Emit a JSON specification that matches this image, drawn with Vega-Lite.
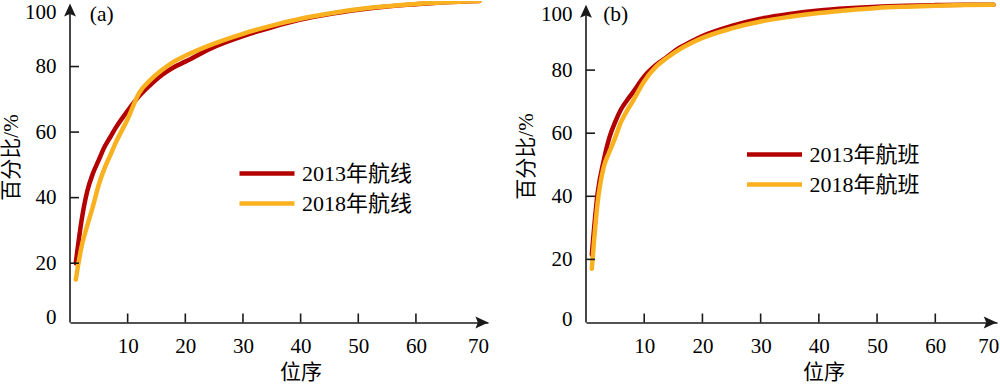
{
  "$schema": "https://vega.github.io/schema/vega-lite/v6.json",
  "padding": {"left": 0, "top": 1, "right": 0, "bottom": 0},
  "bounds": "flush",
  "spacing": 98,
  "config": {
    "font": "Liberation Serif, Noto Sans CJK SC",
    "view": {"stroke": null},
    "axis": {
      "grid": false,
      "ticks": false,
      "domainColor": "#1a1a1a",
      "domainWidth": 1.6,
      "labelFont": "Liberation Serif",
      "labelFontSize": 21,
      "labelColor": "black",
      "titleFont": "Liberation Serif, Noto Sans CJK SC",
      "titleFontSize": 21,
      "titleFontWeight": "normal",
      "titleColor": "black",
      "labelFlush": false,
      "labelOverlap": false
    },
    "legend": {
      "orient": "none",
      "title": null,
      "symbolType": "M-2.5,0L2.5,0",
      "symbolSize": 484,
      "symbolStrokeWidth": 4.5,
      "labelFont": "Liberation Serif, Noto Sans CJK SC",
      "labelFontSize": 22,
      "labelColor": "black",
      "labelOffset": 21.5,
      "rowPadding": 5,
      "padding": 0,
      "labelLimit": 300
    }
  },
  "resolve": {"scale": {"color": "independent"}, "legend": {"color": "independent"}},
  "hconcat": [
    {
      "width": 418,
      "height": 321.5,
      "layer": [
        {
          "data": {"values": [
            {"series": "2013年航线", "rank": 1, "pct": 20},
            {"series": "2013年航线", "rank": 2, "pct": 33},
            {"series": "2013年航线", "rank": 3, "pct": 42},
            {"series": "2013年航线", "rank": 4, "pct": 47.5},
            {"series": "2013年航线", "rank": 5, "pct": 51.5},
            {"series": "2013年航线", "rank": 6, "pct": 55.5},
            {"series": "2013年航线", "rank": 7, "pct": 58.5},
            {"series": "2013年航线", "rank": 8, "pct": 61.5},
            {"series": "2013年航线", "rank": 10, "pct": 66.5},
            {"series": "2013年航线", "rank": 12, "pct": 71},
            {"series": "2013年航线", "rank": 14, "pct": 74.5},
            {"series": "2013年航线", "rank": 16, "pct": 77.5},
            {"series": "2013年航线", "rank": 18, "pct": 79.8},
            {"series": "2013年航线", "rank": 20, "pct": 81.5},
            {"series": "2013年航线", "rank": 25, "pct": 86},
            {"series": "2013年航线", "rank": 30, "pct": 89.3},
            {"series": "2013年航线", "rank": 35, "pct": 92},
            {"series": "2013年航线", "rank": 40, "pct": 94.3},
            {"series": "2013年航线", "rank": 45, "pct": 96},
            {"series": "2013年航线", "rank": 50, "pct": 97.3},
            {"series": "2013年航线", "rank": 55, "pct": 98.3},
            {"series": "2013年航线", "rank": 60, "pct": 99},
            {"series": "2013年航线", "rank": 65, "pct": 99.6},
            {"series": "2013年航线", "rank": 71, "pct": 100},
            {"series": "2018年航线", "rank": 1, "pct": 15},
            {"series": "2018年航线", "rank": 2, "pct": 25},
            {"series": "2018年航线", "rank": 3, "pct": 31.5},
            {"series": "2018年航线", "rank": 4, "pct": 37.5},
            {"series": "2018年航线", "rank": 5, "pct": 44},
            {"series": "2018年航线", "rank": 6, "pct": 49},
            {"series": "2018年航线", "rank": 7, "pct": 53},
            {"series": "2018年航线", "rank": 8, "pct": 57},
            {"series": "2018年航线", "rank": 10, "pct": 64},
            {"series": "2018年航线", "rank": 12, "pct": 72},
            {"series": "2018年航线", "rank": 14, "pct": 76},
            {"series": "2018年航线", "rank": 16, "pct": 79},
            {"series": "2018年航线", "rank": 18, "pct": 81.5},
            {"series": "2018年航线", "rank": 20, "pct": 83.3},
            {"series": "2018年航线", "rank": 25, "pct": 87},
            {"series": "2018年航线", "rank": 30, "pct": 90},
            {"series": "2018年航线", "rank": 35, "pct": 92.5},
            {"series": "2018年航线", "rank": 40, "pct": 94.6},
            {"series": "2018年航线", "rank": 45, "pct": 96.2},
            {"series": "2018年航线", "rank": 50, "pct": 97.5},
            {"series": "2018年航线", "rank": 55, "pct": 98.4},
            {"series": "2018年航线", "rank": 60, "pct": 99.1},
            {"series": "2018年航线", "rank": 65, "pct": 99.6},
            {"series": "2018年航线", "rank": 71, "pct": 100}
          ]},
          "mark": {"type": "line", "interpolate": "monotone", "strokeWidth": 4.5, "strokeCap": "round", "clip": true},
          "encoding": {
            "x": {
              "field": "rank", "type": "quantitative",
              "scale": {"domain": [0, 72.5], "nice": false, "zero": false},
              "axis": {
                "title": "位序",
                "values": [10, 20, 30, 40, 50, 60, 70.76],
                "labelExpr": "datum.value > 65 ? '70' : datum.label",
                "labelPadding": 12.5,
                "titleX": 230.5, "titleY": 50, "titleBaseline": "middle"
              }
            },
            "y": {
              "field": "pct", "type": "quantitative",
              "scale": {"domain": [1.9, 100], "nice": false, "zero": false},
              "axis": {
                "title": "百分比/%",
                "values": [3.4, 20, 40, 60, 80, 96.6],
                "labelExpr": "datum.value < 10 ? '0' : datum.value > 90 ? '100' : datum.label",
                "domain": false,
                "labelPadding": 14,
                "titleX": -59, "titleY": 156, "titleBaseline": "middle"
              }
            },
            "color": {
              "field": "series", "type": "nominal",
              "scale": {"domain": ["2013年航线", "2018年航线"], "range": ["#B30000", "#F9B11F"]},
              "legend": {"legendX": 183.5, "legendY": 159}
            }
          }
        },
        {
          "data": {"values": [{"tick": 20}, {"tick": 40}, {"tick": 60}, {"tick": 80}]},
          "mark": {"type": "rule", "strokeWidth": 1.6, "color": "#1a1a1a"},
          "encoding": {"y": {"field": "tick", "type": "quantitative"}, "x": {"datum": 0}, "x2": {"datum": 1.56}}
        },
        {
          "data": {"values": [{"tick": 10}, {"tick": 20}, {"tick": 30}, {"tick": 40}, {"tick": 50}, {"tick": 60}]},
          "mark": {"type": "rule", "strokeWidth": 1.6, "color": "#1a1a1a"},
          "encoding": {"x": {"field": "tick", "type": "quantitative"}, "y": {"datum": 1.9}, "y2": {"datum": 4.65}}
        },
        {
          "data": {"values": [{}]},
          "mark": {"type": "rule", "strokeWidth": 1.6, "color": "#1a1a1a"},
          "encoding": {"x": {"datum": 0}, "y": {"datum": 1.9}, "y2": {"datum": 97.1}}
        },
        {
          "data": {"values": [{}]},
          "mark": {"type": "point", "shape": "M0,-1L0.85,0.85L0,0.5L-0.85,0.85Z", "size": 196, "filled": true, "color": "#1a1a1a", "opacity": 1},
          "encoding": {"x": {"datum": 0}, "y": {"datum": 97.1}}
        },
        {
          "data": {"values": [{}]},
          "mark": {"type": "point", "shape": "M1,0L-0.85,0.85L-0.5,0L-0.85,-0.85Z", "size": 196, "filled": true, "color": "#1a1a1a", "opacity": 1},
          "encoding": {"x": {"datum": 71.35}, "y": {"datum": 1.9}}
        },
        {
          "data": {"values": [{}]},
          "mark": {"type": "text", "text": "(a)", "fontSize": 21.5, "font": "Liberation Serif", "align": "center", "baseline": "middle", "color": "black"},
          "encoding": {"x": {"datum": 5.5}, "y": {"datum": 95.8}}
        }
      ]
    },
    {
      "width": 411,
      "height": 321.5,
      "layer": [
        {
          "data": {"values": [
            {"series": "2013年航班", "rank": 1, "pct": 21.5},
            {"series": "2013年航班", "rank": 2, "pct": 41},
            {"series": "2013年航班", "rank": 3, "pct": 51},
            {"series": "2013年航班", "rank": 4, "pct": 58.5},
            {"series": "2013年航班", "rank": 5, "pct": 63.5},
            {"series": "2013年航班", "rank": 6, "pct": 67.5},
            {"series": "2013年航班", "rank": 7, "pct": 70.3},
            {"series": "2013年航班", "rank": 8, "pct": 72.8},
            {"series": "2013年航班", "rank": 10, "pct": 78},
            {"series": "2013年航班", "rank": 12, "pct": 81.6},
            {"series": "2013年航班", "rank": 14, "pct": 84.3},
            {"series": "2013年航班", "rank": 16, "pct": 87},
            {"series": "2013年航班", "rank": 18, "pct": 89},
            {"series": "2013年航班", "rank": 20, "pct": 90.8},
            {"series": "2013年航班", "rank": 25, "pct": 94},
            {"series": "2013年航班", "rank": 30, "pct": 96.3},
            {"series": "2013年航班", "rank": 35, "pct": 97.8},
            {"series": "2013年航班", "rank": 40, "pct": 98.9},
            {"series": "2013年航班", "rank": 45, "pct": 99.6},
            {"series": "2013年航班", "rank": 50, "pct": 100.1},
            {"series": "2013年航班", "rank": 55, "pct": 100.4},
            {"series": "2013年航班", "rank": 60, "pct": 100.6},
            {"series": "2013年航班", "rank": 65, "pct": 100.7},
            {"series": "2013年航班", "rank": 70, "pct": 100.7},
            {"series": "2018年航班", "rank": 1, "pct": 17},
            {"series": "2018年航班", "rank": 2, "pct": 38},
            {"series": "2018年航班", "rank": 3, "pct": 49},
            {"series": "2018年航班", "rank": 4, "pct": 54},
            {"series": "2018年航班", "rank": 5, "pct": 58.5},
            {"series": "2018年航班", "rank": 6, "pct": 63.5},
            {"series": "2018年航班", "rank": 7, "pct": 67},
            {"series": "2018年航班", "rank": 8, "pct": 70},
            {"series": "2018年航班", "rank": 10, "pct": 76.5},
            {"series": "2018年航班", "rank": 12, "pct": 81},
            {"series": "2018年航班", "rank": 14, "pct": 84},
            {"series": "2018年航班", "rank": 16, "pct": 86.5},
            {"series": "2018年航班", "rank": 18, "pct": 88.5},
            {"series": "2018年航班", "rank": 20, "pct": 90.2},
            {"series": "2018年航班", "rank": 25, "pct": 93.2},
            {"series": "2018年航班", "rank": 30, "pct": 95.4},
            {"series": "2018年航班", "rank": 35, "pct": 96.9},
            {"series": "2018年航班", "rank": 40, "pct": 98.1},
            {"series": "2018年航班", "rank": 45, "pct": 99},
            {"series": "2018年航班", "rank": 50, "pct": 99.7},
            {"series": "2018年航班", "rank": 55, "pct": 100.1},
            {"series": "2018年航班", "rank": 60, "pct": 100.4},
            {"series": "2018年航班", "rank": 65, "pct": 100.6},
            {"series": "2018年航班", "rank": 70, "pct": 100.7}
          ]},
          "mark": {"type": "line", "interpolate": "monotone", "strokeWidth": 4.5, "strokeCap": "round", "clip": true},
          "encoding": {
            "x": {
              "field": "rank", "type": "quantitative",
              "scale": {"domain": [0, 70.6], "nice": false, "zero": false},
              "axis": {
                "title": "位序",
                "values": [10, 20, 30, 40, 50, 60, 69.1],
                "labelExpr": "datum.value > 65 ? '70' : datum.label",
                "labelPadding": 12.5,
                "titleX": 237.5, "titleY": 50, "titleBaseline": "middle"
              }
            },
            "y": {
              "field": "pct", "type": "quantitative",
              "scale": {"domain": [0, 101.9], "nice": false, "zero": false},
              "axis": {
                "title": "百分比/%",
                "values": [0.86, 20, 40, 60, 80, 97.5],
                "labelExpr": "datum.value < 10 ? '0' : datum.value > 90 ? '100' : datum.label",
                "domain": false,
                "labelPadding": 14,
                "titleX": -60, "titleY": 155, "titleBaseline": "middle"
              }
            },
            "color": {
              "field": "series", "type": "nominal",
              "scale": {"domain": ["2013年航班", "2018年航班"], "range": ["#B30000", "#F9B11F"]},
              "legend": {"legendX": 175, "legendY": 140}
            }
          }
        },
        {
          "data": {"values": [{"tick": 20}, {"tick": 40}, {"tick": 60}, {"tick": 80}]},
          "mark": {"type": "rule", "strokeWidth": 1.6, "color": "#1a1a1a"},
          "encoding": {"y": {"field": "tick", "type": "quantitative"}, "x": {"datum": 0}, "x2": {"datum": 1.55}}
        },
        {
          "data": {"values": [{"tick": 10}, {"tick": 20}, {"tick": 30}, {"tick": 40}, {"tick": 50}, {"tick": 60}]},
          "mark": {"type": "rule", "strokeWidth": 1.6, "color": "#1a1a1a"},
          "encoding": {"x": {"field": "tick", "type": "quantitative"}, "y": {"datum": 0}, "y2": {"datum": 2.85}}
        },
        {
          "data": {"values": [{}]},
          "mark": {"type": "rule", "strokeWidth": 1.6, "color": "#1a1a1a"},
          "encoding": {"x": {"datum": 0}, "y": {"datum": 0}, "y2": {"datum": 98.5}}
        },
        {
          "data": {"values": [{}]},
          "mark": {"type": "point", "shape": "M0,-1L0.85,0.85L0,0.5L-0.85,0.85Z", "size": 196, "filled": true, "color": "#1a1a1a", "opacity": 1},
          "encoding": {"x": {"datum": 0}, "y": {"datum": 98.5}}
        },
        {
          "data": {"values": [{}]},
          "mark": {"type": "point", "shape": "M1,0L-0.85,0.85L-0.5,0L-0.85,-0.85Z", "size": 196, "filled": true, "color": "#1a1a1a", "opacity": 1},
          "encoding": {"x": {"datum": 69.35}, "y": {"datum": 0}}
        },
        {
          "data": {"values": [{}]},
          "mark": {"type": "text", "text": "(b)", "fontSize": 21.5, "font": "Liberation Serif", "align": "center", "baseline": "middle", "color": "black"},
          "encoding": {"x": {"datum": 5.1}, "y": {"datum": 97.5}}
        }
      ]
    }
  ]
}
